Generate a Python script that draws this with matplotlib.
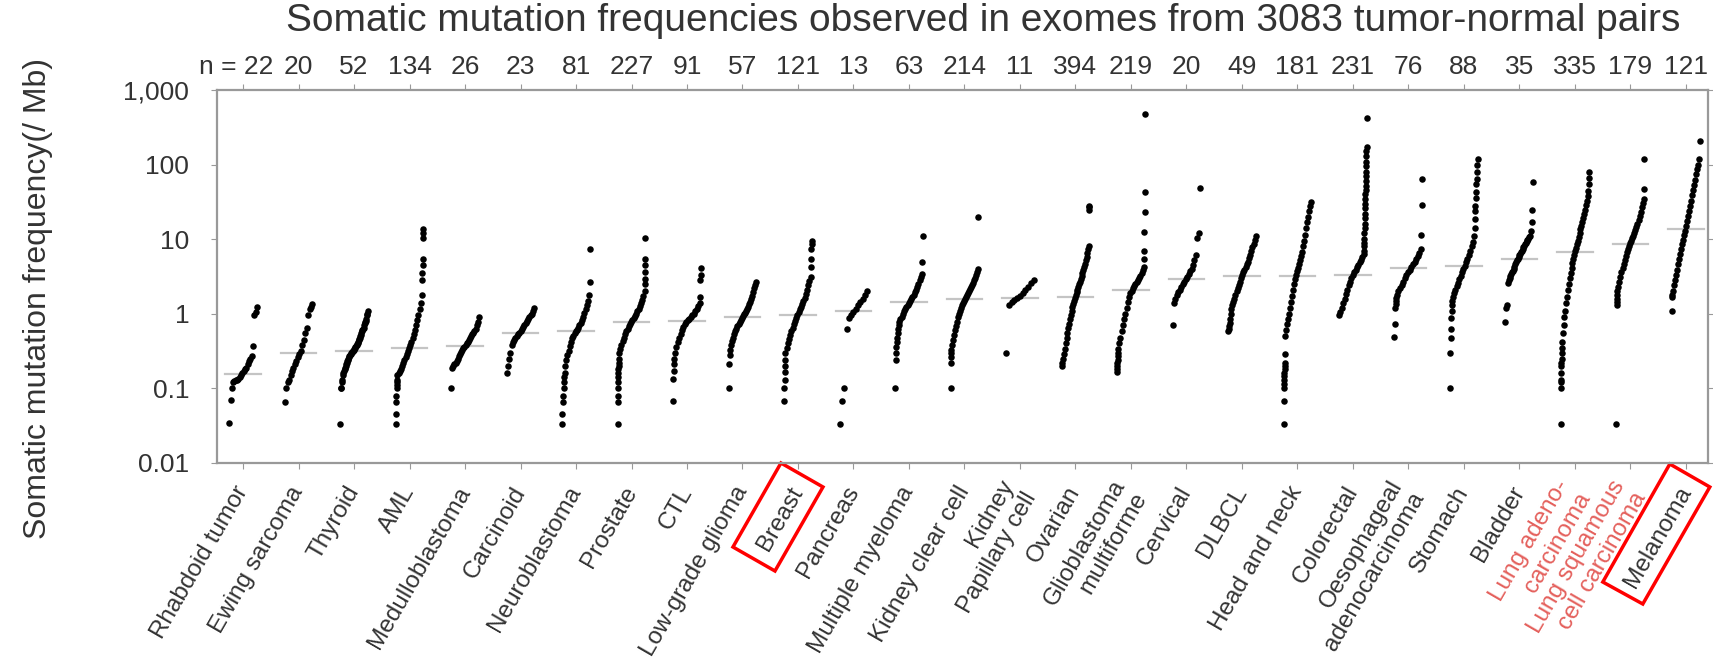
import numpy as np
import matplotlib
matplotlib.use('Agg')
import matplotlib.pyplot as plt
from matplotlib.patches import Polygon
from matplotlib.transforms import ScaledTranslation, blended_transform_factory

plt.rcParams['font.family'] = ['Liberation Sans', 'DejaVu Sans']

cancer_types = ['Rhabdoid tumor', 'Ewing sarcoma', 'Thyroid', 'AML', 'Medulloblastoma',
                'Carcinoid', 'Neuroblastoma', 'Prostate', 'CTL', 'Low-grade glioma',
                'Breast', 'Pancreas', 'Multiple myeloma', 'Kidney clear cell',
                'Kidney\nPapillary cell', 'Ovarian', 'Glioblastoma\nmultiforme', 'Cervical',
                'DLBCL', 'Head and neck', 'Colorectal', 'Oesophageal\nadenocarcinoma',
                'Stomach', 'Bladder', 'Lung adeno-\ncarcinoma', 'Lung squamous\ncell carcinoma',
                'Melanoma']
n_samples = [22, 20, 52, 134, 26, 23, 81, 227, 91, 57, 121, 13, 63, 214, 11, 394, 219,
             20, 49, 181, 231, 76, 88, 35, 335, 179, 121]
medians = [0.157, 0.30, 0.32, 0.35, 0.37, 0.55, 0.59, 0.78, 0.80, 0.91, 0.97, 1.1, 1.45,
           1.6, 1.65, 1.7, 2.1, 2.95, 3.2, 3.2, 3.3, 4.1, 4.4, 5.5, 6.8, 8.7, 13.5]

# mutations per Mb, sorted; big cohorts are given as
# low-tail dots + points along the curve + high-tail dots
rhabdoid = [0.034, 0.069, 0.10, 0.12, 0.125, 0.13, 0.13, 0.135, 0.14, 0.15, 0.16, 0.17, 0.18,
            0.19, 0.21, 0.23, 0.25, 0.27, 0.37, 0.97, 1.07, 1.25]
ewing = [0.065, 0.10, 0.12, 0.13, 0.15, 0.17, 0.19, 0.21, 0.23, 0.26, 0.29, 0.32, 0.38, 0.45,
         0.55, 0.65, 0.95, 1.15, 1.25, 1.35]
thyroid = [0.033, 0.10, 0.10, 0.12, 0.13, 0.15, 0.16, 0.17, 0.18, 0.19, 0.20, 0.21, 0.22, 0.23,
           0.24, 0.25, 0.26, 0.27, 0.28, 0.29, 0.30, 0.31, 0.31, 0.32, 0.32, 0.33, 0.34, 0.35,
           0.36, 0.37, 0.38, 0.39, 0.40, 0.42, 0.44, 0.46, 0.48, 0.50, 0.52, 0.55, 0.58, 0.60,
           0.62, 0.65, 0.70, 0.75, 0.78, 0.80, 0.85, 0.95, 1.0, 1.1]
aml = [0.033, 0.045, 0.065, 0.08, 0.10, 0.11, 0.12, 0.13,
       0.15, 0.16, 0.17, 0.18, 0.2, 0.22, 0.24, 0.26, 0.29, 0.32, 0.35, 0.38, 0.42, 0.47, 0.53,
       0.6, 0.7, 0.82, 0.97, 1.15, 1.4, 1.8,
       2.8, 3.5, 4.5, 5.5, 10.5, 12, 13.5]
medullo = [0.10, 0.19, 0.20, 0.21, 0.22, 0.23, 0.25, 0.27, 0.29, 0.31, 0.33, 0.35, 0.36, 0.38,
           0.40, 0.42, 0.45, 0.48, 0.50, 0.53, 0.55, 0.58, 0.62, 0.70, 0.78, 0.90]
carcinoid = [0.16, 0.20, 0.25, 0.30, 0.38, 0.42, 0.45, 0.48, 0.50, 0.53, 0.55, 0.58, 0.62, 0.66,
             0.70, 0.75, 0.80, 0.85, 0.90, 0.95, 1.0, 1.1, 1.2]
neuro = [0.033, 0.045, 0.065, 0.08, 0.10, 0.12, 0.14, 0.16,
         0.2, 0.24, 0.28, 0.32, 0.37, 0.42, 0.47, 0.51, 0.55, 0.58, 0.61, 0.65, 0.7, 0.76, 0.83,
         0.92, 1.02, 1.15, 1.3, 1.5, 1.8,
         2.7, 7.5]
prostate = [0.033, 0.065, 0.08, 0.10, 0.12, 0.14, 0.16, 0.18, 0.2, 0.22, 0.25,
            0.3, 0.34, 0.38, 0.43, 0.48, 0.53, 0.58, 0.63, 0.68, 0.73, 0.78, 0.83, 0.88, 0.94,
            1.0, 1.08, 1.17, 1.27, 1.4, 1.55, 1.75, 2.0,
            2.5, 2.95, 3.6, 4.5, 5.5, 10.3]
cll = [0.067, 0.134, 0.17, 0.21, 0.25,
       0.3, 0.36, 0.42, 0.48, 0.54, 0.6, 0.66, 0.72, 0.78, 0.82, 0.86, 0.9, 0.95, 1.0, 1.08, 1.17,
       1.27, 1.4,
       1.67, 2.8, 3.3, 4.1]
lgg = [0.1, 0.21, 0.28,
       0.33, 0.38, 0.43, 0.48, 0.53, 0.58, 0.63, 0.68, 0.73, 0.78, 0.83, 0.88, 0.93, 0.98, 1.04,
       1.1, 1.17, 1.25, 1.35, 1.45, 1.6, 1.75, 1.95, 2.2, 2.45, 2.65]
breast = [0.067, 0.10, 0.13, 0.165, 0.2, 0.24,
          0.3, 0.35, 0.4, 0.46, 0.52, 0.58, 0.65, 0.72, 0.8, 0.88, 0.97, 1.06, 1.15, 1.25, 1.37,
          1.5, 1.65, 1.85, 2.1, 2.4, 2.75, 3.1,
          4.2, 5.5, 7.4, 8.5, 9.6]
pancreas = [0.033, 0.067, 0.10, 0.62, 0.88, 0.95, 1.05, 1.15, 1.3, 1.45, 1.6, 1.8, 2.0]
myeloma = [0.10, 0.24, 0.30, 0.36, 0.42, 0.48, 0.55, 0.62, 0.7,
           0.78, 0.85, 0.92, 1.0, 1.08, 1.15, 1.23, 1.32, 1.4, 1.5, 1.6, 1.7, 1.8, 1.95, 2.1,
           2.3, 2.5, 2.8, 3.1, 3.4,
           4.9, 11.2]
kirc = [0.1, 0.22, 0.26, 0.3,
        0.33, 0.38, 0.45, 0.52, 0.6, 0.68, 0.78, 0.9, 1.0, 1.1, 1.2, 1.3, 1.4, 1.5, 1.6, 1.7,
        1.8, 1.9, 2.0, 2.15, 2.3, 2.45, 2.6, 2.8, 3.0, 3.3, 3.6, 4.0,
        19.8]
kirp = [0.3, 1.3, 1.45, 1.55, 1.65, 1.75, 1.9, 2.1, 2.3, 2.55, 2.8]
ovarian = [0.2, 0.22, 0.25, 0.29, 0.34, 0.4, 0.47, 0.55, 0.64, 0.74, 0.85, 0.97, 1.1, 1.22,
           1.35, 1.5, 1.65, 1.8, 1.95, 2.1, 2.3, 2.5, 2.7, 2.95, 3.2, 3.5, 3.85, 4.2, 4.7, 5.2,
           5.8, 6.5, 7.3, 8.2,
           25, 27, 28]
gbm = [0.165, 0.18, 0.2, 0.22, 0.24, 0.27, 0.3,
       0.34, 0.4, 0.48, 0.58, 0.7, 0.85, 1.0, 1.2, 1.45, 1.7, 1.9, 2.05, 2.2, 2.35, 2.5, 2.65,
       2.8, 3.0, 3.2, 3.5, 3.9, 4.3,
       5.5, 6.9, 12.5, 23.5, 43, 480]
cervical = [0.7, 1.4, 1.6, 1.8, 1.95, 2.1, 2.3, 2.5, 2.7, 2.9, 3.1, 3.4, 3.7, 4.0, 4.5, 5.2,
            6.1, 10.5, 12.0, 48.6]
dlbcl = [0.58, 0.63, 0.68, 0.75, 0.85, 1.0, 1.15,
         1.3, 1.45, 1.6, 1.8, 2.0, 2.2, 2.45, 2.7, 3.0, 3.3, 3.6, 3.9, 4.2, 4.6, 5.0, 5.6, 6.2,
         7.0, 7.8, 8.7, 9.7, 11.0]
hnsc = [0.033, 0.067, 0.1, 0.115, 0.13, 0.145, 0.16, 0.18, 0.2, 0.22, 0.29,
        0.5, 0.6, 0.72, 0.85, 1.0, 1.2, 1.45, 1.75, 2.1, 2.5, 2.9, 3.3, 3.7, 4.1, 4.6, 5.2, 5.9,
        6.8, 8, 9.5, 11.5, 14, 17, 20, 24, 28, 31.5]
colorectal = [0.95, 1.05, 1.2, 1.4, 1.6, 1.85, 2.1, 2.4, 2.7, 3.0, 3.3, 3.6, 3.9, 4.2, 4.5,
              4.9, 5.3, 5.8, 6.4,
              7, 8, 9, 10, 12, 14, 16, 19, 22, 26, 30, 35, 40, 46, 52, 60, 70, 80, 95, 110,
              130, 150, 170, 420]
oesophageal = [0.49, 0.73, 1.2, 1.35, 1.5, 1.65,
               1.8, 2.0, 2.2, 2.45, 2.7, 3.0, 3.3, 3.6, 3.9, 4.2, 4.6, 5.0, 5.5, 6.0, 6.6, 7.3,
               11.5, 28.3, 65]
stomach = [0.1, 0.3, 0.47, 0.63, 0.87, 1.1, 1.3, 1.5,
           1.7, 1.9, 2.1, 2.35, 2.6, 2.9, 3.2, 3.6, 4.0, 4.4, 4.9, 5.5, 6.2, 7.0, 8.0, 9.3, 11,
           14, 18.8, 24, 28, 36, 43, 55, 65, 80, 98, 120]
bladder = [0.77, 1.2, 1.3, 2.6, 2.8, 3.0, 3.2, 3.4, 3.6, 3.8, 4.0, 4.3, 4.6, 4.9, 5.2, 5.5,
           5.8, 6.1, 6.4, 6.7, 7.0, 7.4, 7.8, 8.2, 8.6, 9.0, 9.4, 9.8, 10.2, 10.6, 11, 13, 17,
           24.4, 58.4]
luad = [0.033, 0.1, 0.12, 0.13, 0.16, 0.2, 0.22, 0.25, 0.3, 0.35,
        0.42, 0.55, 0.7, 0.9, 1.1, 1.4, 1.7, 2.1, 2.5, 3.0, 3.5, 4.1, 4.8, 5.5, 6.2, 6.9, 7.7,
        8.6, 9.6, 10.7, 12, 13.5, 15, 17, 19.5, 22, 25, 29, 33, 38, 44,
        55, 67, 80]
lusc = [0.033, 1.3, 1.45, 1.6, 1.8,
        2.0, 2.3, 2.7, 3.1, 3.6, 4.1, 4.7, 5.3, 6.0, 6.7, 7.4, 8.1, 8.8, 9.5, 10.3, 11.2, 12.2,
        13.3, 14.5, 16, 18, 20.5, 23.5, 27, 31, 35,
        47, 120]
melanoma = [1.1, 1.67, 1.8,
            2.0, 2.4, 2.8, 3.3, 3.9, 4.6, 5.4, 6.3, 7.3, 8.5, 9.8, 11.3, 13, 15, 17.5, 20.5, 24,
            28, 33, 39, 46, 54, 63, 74, 87, 100, 120,
            210]

rates = [rhabdoid, ewing, thyroid, aml, medullo, carcinoid, neuro, prostate, cll, lgg, breast,
         pancreas, myeloma, kirc, kirp, ovarian, gbm, cervical, dlbcl, hnsc, colorectal,
         oesophageal, stomach, bladder, luad, lusc, melanoma]
# how many leading / trailing values above are single tail dots
n_low = [0, 0, 0, 8, 0, 0, 8, 11, 5, 3, 6, 0, 9, 4, 0, 0, 7, 0, 7, 11, 0, 6, 8, 0, 10, 5, 3]
n_high = [0, 0, 0, 7, 0, 0, 2, 6, 4, 0, 5, 0, 2, 1, 0, 3, 6, 0, 0, 0, 24, 3, 11, 0, 3, 2, 1]

red_types = ['Lung adeno-\ncarcinoma', 'Lung squamous\ncell carcinoma']

fig = plt.figure(figsize=(17.13, 6.69), dpi=100)
ax = fig.add_axes([217 / 1713, 1 - 463 / 669, (1708 - 217) / 1713, (463 - 90) / 669])

for i, vals in enumerate(rates):
    n = n_samples[i]
    lo = n_low[i]
    hi = n_high[i]
    m = len(vals) - lo - hi
    ranks = np.concatenate([np.arange(lo), np.linspace(lo, n - 1 - hi, m), np.arange(n - hi, n)])
    x = i + (ranks / (n - 1) - 0.5) * 0.5
    ax.scatter(x, vals, s=22, c='black', linewidths=0, zorder=3)
    ax.plot([i - 0.32, i + 0.32], [medians[i], medians[i]], color='#c4c4c4', lw=1.6, zorder=2)

ax.set_yscale('log')
ax.set_ylim(0.01, 1000)
ax.set_xlim(-0.47, 26.4)
ax.set_yticks([0.01, 0.1, 1, 10, 100, 1000])
ax.set_yticklabels(['0.01', '0.1', '1', '10', '100', '1,000'])
ax.minorticks_off()
ax.set_xticks(range(len(cancer_types)))
ax.set_xticklabels(cancer_types, rotation=60, ha='right', va='center',
                   rotation_mode='anchor', multialignment='right')
ax.tick_params(axis='y', direction='out', length=4, color='#999999', labelsize=19,
               labelcolor='#333333', pad=16, right=True)
ax.tick_params(axis='x', direction='out', length=4, color='#999999', labelsize=17.5,
               labelcolor='#333333', pad=14, top=True)
for lab in ax.get_xticklabels():
    if lab.get_text() in red_types:
        lab.set_color('#e4605c')
for sp in ax.spines.values():
    sp.set_color('#999999')
    sp.set_linewidth(1.6)

top = blended_transform_factory(ax.transData, ax.transAxes)
for i, n in enumerate(n_samples):
    if i == 0:
        ax.text(0.55, 1.062, 'n = %d' % n, transform=top, ha='right', va='center',
                fontsize=19, color='#333333')
    else:
        ax.text(i, 1.062, str(n), transform=top, ha='center', va='center',
                fontsize=19, color='#333333')

ax.set_ylabel('Somatic mutation frequency(/ Mb)', fontsize=23, color='#333333')
ax.yaxis.set_label_coords(-0.11, 0.44)
fig.suptitle('Somatic mutation frequencies observed in exomes from 3083 tumor-normal pairs',
             x=0.574, y=0.995, fontsize=28, color='#333333')

# red boxes round two of the labels (offsets in inches from the tick at the bottom spine)
boxes = {
    'Breast': [(-0.17, 0.0), (0.25, -0.24), (-0.23, -1.08), (-0.65, -0.84)],
    'Melanoma': [(-0.16, -0.01), (0.24, -0.24), (-0.43, -1.41), (-0.83, -1.19)],
}
for name, corners in boxes.items():
    i = cancer_types.index(name)
    tr = fig.dpi_scale_trans + ScaledTranslation(i, 0, top)
    ax.add_patch(Polygon(corners, closed=True, fill=False, edgecolor='red', lw=2.5,
                         transform=tr, clip_on=False))

fig.savefig('out.png', dpi=100)
